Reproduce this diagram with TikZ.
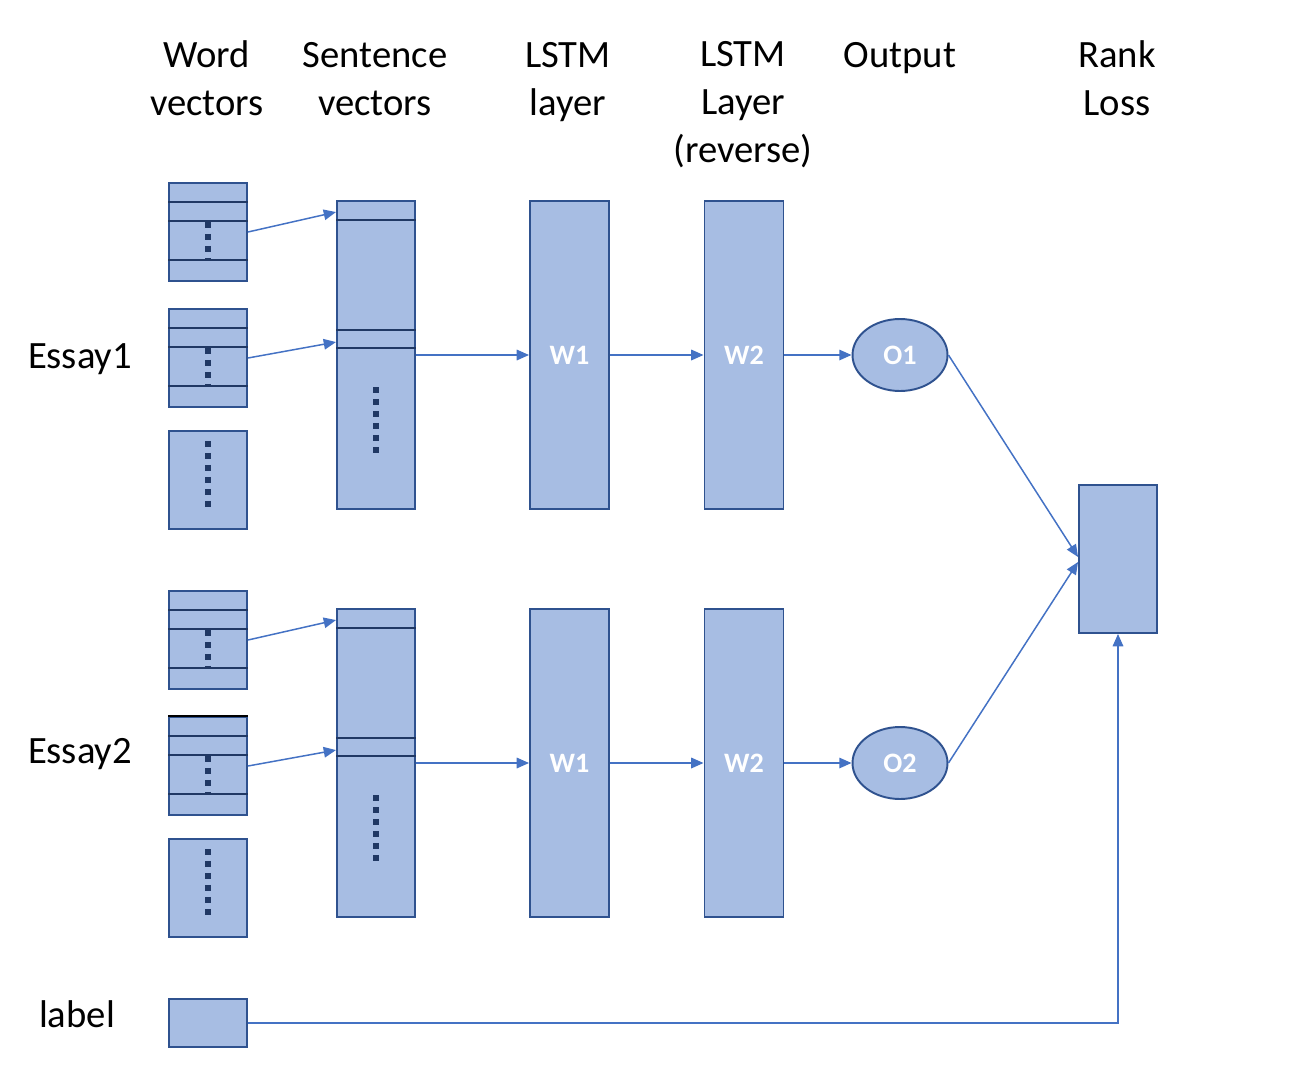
\documentclass[tikz,border=0pt]{standalone}
\usepackage{fontspec}
\setmainfont{Carlito}
\usetikzlibrary{arrows.meta,positioning,calc,shapes.geometric}
\definecolor{cellfill}{RGB}{167,189,227}
\definecolor{celledge}{RGB}{47,82,143}
\definecolor{rowline}{RGB}{32,56,100}
\definecolor{flowblue}{RGB}{68,114,196}
\tikzset{
  base/.style={font=\fontsize{22}{27.2}\selectfont, align=center, inner sep=0pt, text=black},
  cell/.style 2 args={rectangle, draw=celledge, fill=cellfill, line width=1.1pt, inner sep=0pt, minimum width=#1*0.02cm, minimum height=#2*0.02cm},
  unit/.style={cell={79}{308}, font=\fontsize{16}{19}\selectfont\bfseries, text=white},
  outp/.style={ellipse, draw=celledge, fill=cellfill, line width=1.1pt, inner sep=0pt, minimum width=1.9cm, minimum height=1.44cm, font=\fontsize{16}{19}\selectfont\bfseries, text=white},
  row/.style={draw=rowline, line width=1.1pt},
  vdots/.style={draw=rowline, line width=3.3pt, dash pattern=on 3.3pt off 3.5pt},
  arr/.style={-{Triangle[length=7pt,width=6pt]}, line width=0.85pt, draw=flowblue},
}
\begin{document}
\begin{tikzpicture}[x=0.02cm,y=-0.02cm]
  \useasboundingbox (0,0) rectangle (1302,1086);
  % column headers
  \node[base,anchor=base] (hword) at (207,115)  {Word\\vectors};
  \node[base,anchor=base] (hsent) at (375,115)  {Sentence\\vectors};
  \node[base,anchor=base] (hlstm) at (568,115)  {LSTM\\layer};
  \node[base,anchor=base] (hrev)  at (743,162)  {LSTM\\Layer\\(reverse)};
  \node[base,anchor=base] (hout)  at (900,67)   {Output};
  \node[base,anchor=base] (hrank) at (1117,115) {Rank\\Loss};
  % the two essay branches
  \foreach \e/\dy/\ey in {1/0/368,2/408/763}{
    \node[base,anchor=base] (essay\e) at (80,\ey) {Essay\e};
    \node[cell={78}{98}] (wa\e) at (208,232+\dy) {};
    \node[cell={78}{98}] (wb\e) at (208,358+\dy) {};
    \node[cell={78}{98}] (wc\e) at (208,480+\dy) {};
    \node[cell={78}{308}] (s\e) at (376,355+\dy) {};
    \node[unit] (l\e) at (569.5,355+\dy) {W1};
    \node[unit] (r\e) at (744,355+\dy) {W2};
    \node[outp] (o\e) at (900,355+\dy) {O\e};
    \foreach \n in {wa,wb}{
      \draw[vdots] ($(\n\e.north)+(0,40)$) -- ($(\n\e.north)+(0,78)$);
      \foreach \r in {20,39,78}
        \draw[row] ($(\n\e.north west)+(0,\r)$) -- ($(\n\e.north east)+(0,\r)$);
    }
    \draw[vdots] ($(wc\e.north)+(0,11)$) -- ($(wc\e.north)+(0,78)$);
    \foreach \r in {20,130,148}
      \draw[row] ($(s\e.north west)+(0,\r)$) -- ($(s\e.north east)+(0,\r)$);
    \draw[vdots] ($(s\e.north)+(0,187)$) -- ($(s\e.north)+(0,254)$);
    \draw[arr] (wa\e.east) -- ($(s\e.north west)+(0,12)$);
    \draw[arr] (wb\e.east) -- ($(s\e.north west)+(0,142)$);
    \draw[arr] (s\e) -- (l\e);
    \draw[arr] (l\e) -- (r\e);
    \draw[arr] (r\e) -- (o\e);
  }
  \draw[line width=1.6pt,black] (wb2.north west) -- (wb2.north east);
  % ranking part
  \node[cell={78}{148}] (rank) at (1118,559) {};
  \node[base,anchor=base] (labeltxt) at (77,1027) {label};
  \node[cell={78}{48}] (lab) at (208,1023) {};
  \draw[arr] (o1.east) -- ($(rank.west)+(0,-2)$);
  \draw[arr] (o2.east) -- ($(rank.west)+(0,3)$);
  \draw[arr] (lab.east) -| (rank.south);
\end{tikzpicture}
\end{document}
